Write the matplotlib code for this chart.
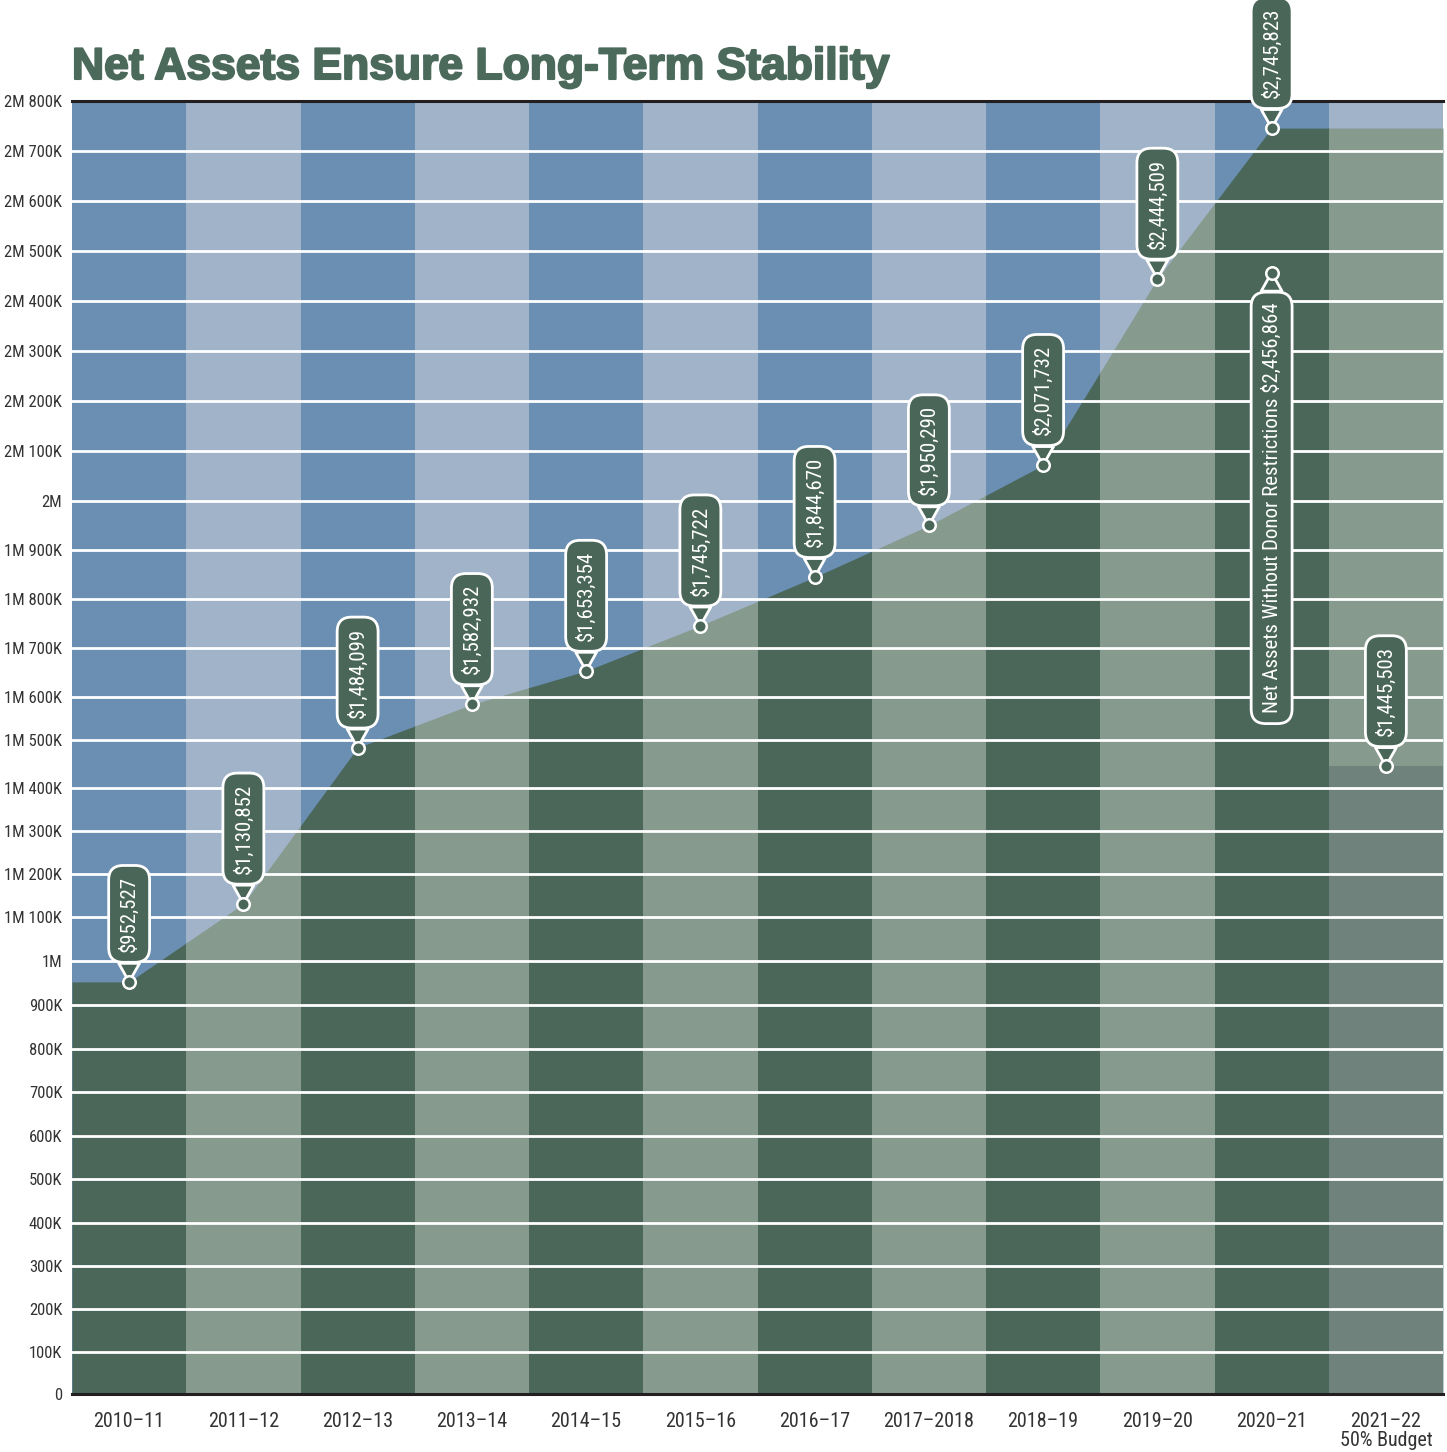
import numpy as np
import matplotlib
matplotlib.use("Agg")
import matplotlib.pyplot as plt
import matplotlib.patheffects as pe
from matplotlib import font_manager as fm
from matplotlib.patches import Rectangle
from matplotlib.ticker import FuncFormatter

# data
years = ["2010–11", "2011–12", "2012–13", "2013–14", "2014–15", "2015–16",
         "2016–17", "2017–2018", "2018–19", "2019–20", "2020–21", "2021–22\n50% Budget"]
net_assets = [952527, 1130852, 1484099, 1582932, 1653354, 1745722,
              1844670, 1950290, 2071732, 2444509, 2745823]
no_donor_2021 = 2456864
budget_2122 = 1445503

# gridlines every 100K, the original spaces them unevenly (pixel rows)
ticks = np.arange(0, 2800001, 100000)
tick_rows = np.array([1394, 1352, 1309, 1266, 1223, 1179, 1136, 1092, 1049, 1005,
                      961, 917, 874, 831, 788, 740, 697, 648, 599, 550,
                      501, 451, 401, 351, 301, 251, 201, 151, 101])
tick_u = 1394 - tick_rows

def fwd(v):
    return np.interp(v, ticks, tick_u)

def inv(u):
    return np.interp(u, tick_u, ticks)

def fmt(v, pos):
    m, k = divmod(int(round(v / 1000)), 1000)
    parts = []
    if m:
        parts.append(f"{m}M")
    if k:
        parts.append(f"{k}K")
    return " ".join(parts) or "0"

# look for a condensed face, the original uses a narrow grotesque
def pick_condensed():
    fonts = [(f.name, str(f.stretch)) for f in fm.fontManager.ttflist]
    for name in ["Liberation Sans Narrow", "Roboto Condensed", "Open Sans Condensed",
                 "Noto Sans Condensed", "DejaVu Sans Condensed"]:
        if any(n == name for n, s in fonts):
            return fm.FontProperties(family=name), 1.0
    for name in ["DejaVu Sans", "Noto Sans", "Open Sans", "Roboto"]:
        if any(n == name and s in ("condensed", "semi-condensed", "extra-condensed", "75", "87.5")
               for n, s in fonts):
            return fm.FontProperties(family=name, stretch="condensed"), 0.95
    return fm.FontProperties(family="Roboto"), 0.9

cond, k = pick_condensed()

def cfont(size):
    fp = cond.copy()
    fp.set_size(size * k)
    return fp

blues = ["#6a8fb2", "#a0b3c9"]
greens = ["#4b6759", "#879a8e"]
budget_col = "#6f827b"
box_col = "#4a6659"

fig = plt.figure(figsize=(14.47, 14.52), dpi=100)
ax = fig.add_axes([72 / 1447, 1 - 1394 / 1452, (1443 - 72) / 1447, (1394 - 101) / 1452])
ax.set_yscale("function", functions=(fwd, inv))
ax.set_xlim(-0.5, 11.5)
ax.set_ylim(0, 2800000)

n = len(years)
ax.bar(range(n), 2800000, width=1, color=[blues[i % 2] for i in range(n)], lw=0, zorder=0)

# total net assets area, flat at both ends, coloured per column
xs = [-0.5] + list(range(len(net_assets))) + [n - 0.5]
ys = [net_assets[0]] + net_assets + [net_assets[-1]]
for i in range(n):
    poly = ax.fill_between(xs, ys, 0, color=greens[i % 2], lw=0, zorder=1)
    clip = Rectangle((i - 0.5, 0), 1, 2800000, transform=ax.transData)
    poly.set_clip_path(clip)

ax.bar(n - 1, budget_2122, width=1, color=budget_col, lw=0, zorder=2)

for v in ticks[1:-1]:
    ax.axhline(v, color="white", lw=2, zorder=3)

def callout(x, v, text, below=False):
    off = -30 if below else 30
    ax.annotate(text, xy=(x, v), xytext=(0, off), textcoords="offset pixels",
                rotation=90, ha="center", va="top" if below else "bottom",
                color="white", fontproperties=cfont(15),
                bbox=dict(boxstyle="round,pad=0.5,rounding_size=0.7", fc=box_col, ec="white", lw=2),
                arrowprops=dict(arrowstyle="wedge,tail_width=1.0", fc=box_col, ec="white", lw=2,
                                shrinkA=0, shrinkB=0),
                zorder=5, annotation_clip=False)
    ax.plot(x, v, "o", ms=9, mfc=box_col, mec="white", mew=1.8, zorder=6, clip_on=False)

for i, v in enumerate(net_assets):
    callout(i, v, f"${v:,}")
callout(10, no_donor_2021, f"Net Assets Without Donor Restrictions ${no_donor_2021:,}", below=True)
callout(11, budget_2122, f"${budget_2122:,}")

ax.set_yticks(ticks)
ax.yaxis.set_major_formatter(FuncFormatter(fmt))
ax.set_xticks(range(n), years, linespacing=1.0)
ax.tick_params(axis="y", length=0, pad=7, labelcolor="#333333")
ax.tick_params(axis="x", length=0, pad=13, labelcolor="#333333")
for lab in ax.get_yticklabels():
    lab.set_fontproperties(cfont(12))
for lab in ax.get_xticklabels():
    lab.set_fontproperties(cfont(14.5))

for s in ["left", "right"]:
    ax.spines[s].set_visible(False)
for s in ["top", "bottom"]:
    ax.spines[s].set_color("#231f20")
    ax.spines[s].set_linewidth(2.2)
    ax.spines[s].set_zorder(4)

title_col = "#4b6a5c"
fig.text(72 / 1447, 1 - 79 / 1452, "Net Assets Ensure Long-Term Stability",
         fontsize=32, fontweight="bold", color=title_col, family="Liberation Sans",
         va="baseline", path_effects=[pe.withStroke(linewidth=1.5, foreground=title_col)])

fig.savefig("out.png", dpi=100)
